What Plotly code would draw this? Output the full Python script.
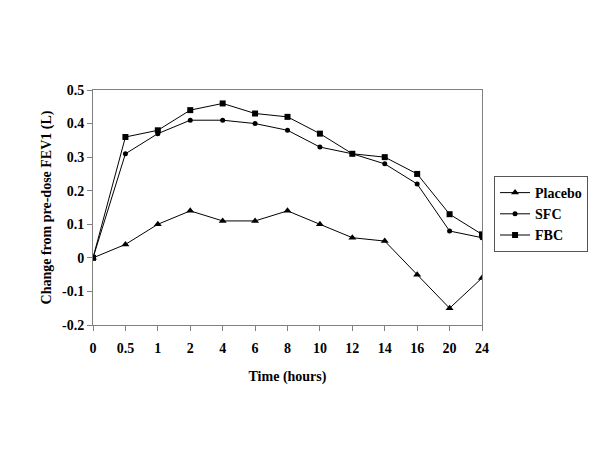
import plotly.graph_objects as go

times = ["0", "0.5", "1", "2", "4", "6", "8", "10", "12", "14", "16", "20", "24"]
placebo = [0, 0.04, 0.10, 0.14, 0.11, 0.11, 0.14, 0.10, 0.06, 0.05, -0.05, -0.15, -0.06]
sfc = [0, 0.31, 0.37, 0.41, 0.41, 0.40, 0.38, 0.33, 0.31, 0.28, 0.22, 0.08, 0.06]
fbc = [0, 0.36, 0.38, 0.44, 0.46, 0.43, 0.42, 0.37, 0.31, 0.30, 0.25, 0.13, 0.07]
y_ticks = [-0.2, -0.1, 0, 0.1, 0.2, 0.3, 0.4, 0.5]
y_labels = ["-0.2", "-0.1", "0", "0.1", "0.2", "0.3", "0.4", "0.5"]

font = "Liberation Serif"
fig = go.Figure()
series = [("Placebo", placebo, "triangle-up", 7), ("SFC", sfc, "circle", 5), ("FBC", fbc, "square", 6)]
for name, vals, sym, sz in series:
    fig.add_trace(go.Scatter(
        x=list(range(len(times))), y=vals, name=name, mode="lines+markers",
        line=dict(color="black", width=1),
        marker=dict(symbol=sym, size=sz, color="black"),
    ))

fig.update_layout(
    width=600, height=450,
    margin=dict(l=93, r=118, t=90, b=125, autoexpand=False),
    paper_bgcolor="white", plot_bgcolor="white",
    font=dict(family=font, size=13, color="black"),
    showlegend=True,
    legend=dict(x=1.031, y=0.634, xanchor="left", yanchor="top",
                bordercolor="#555555", borderwidth=1, bgcolor="white",
                font=dict(family=font, size=14, color="black", weight="bold"),
                itemwidth=30, tracegroupgap=0),
)
fig.update_xaxes(
    range=[0, len(times) - 1],
    tickmode="array", tickvals=list(range(len(times))), ticktext=times,
    ticks="outside", ticklen=5, tickcolor="#808080",
    showline=True, linecolor="#808080", linewidth=1, mirror=True,
    showgrid=False, zeroline=False, ticklabelstandoff=5,
    tickfont=dict(family=font, size=14, weight="bold"),
    title=dict(text="Time (hours)", font=dict(family=font, size=14, weight="bold"), standoff=16),
)
fig.update_yaxes(
    range=[-0.2, 0.5],
    tickmode="array", tickvals=y_ticks, ticktext=y_labels,
    ticks="outside", ticklen=5, tickcolor="#808080",
    showline=True, linecolor="#808080", linewidth=1, mirror=True,
    showgrid=False, zeroline=False, ticklabelstandoff=0,
    tickfont=dict(family=font, size=14, weight="bold"),
    title=dict(text="Change from pre-dose FEV1 (L)", font=dict(family=font, size=14, weight="bold"), standoff=7),
)
fig.write_html("out.html", config={"displayModeBar": False},
               post_script="document.body.style.margin='0';")
